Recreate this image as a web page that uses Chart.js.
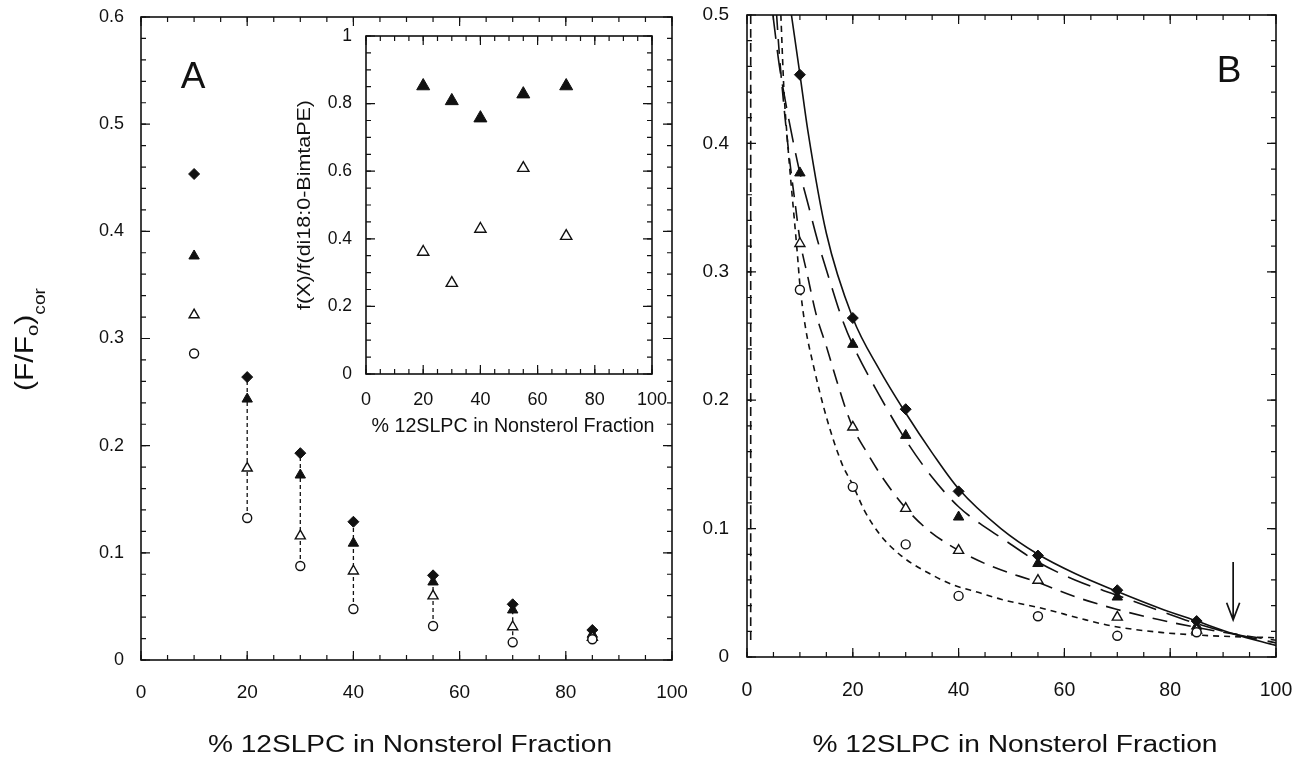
<!DOCTYPE html>
<html>
<head>
<meta charset="utf-8">
<script src="https://cdn.jsdelivr.net/npm/chart.js@4.4.1/dist/chart.umd.min.js"></script>
<style>
  html, body { margin: 0; padding: 0; background: #fff; }
  #wrap { position: relative; width: 1295px; height: 767px; overflow: hidden; background: #fff; }
  #wrap canvas { position: absolute; left: 0; top: 0; }
</style>
</head>
<body>
<div id="wrap">
  <canvas id="chartA" width="1295" height="767"></canvas>
  <canvas id="chartInset" width="1295" height="767"></canvas>
  <canvas id="chartB" width="1295" height="767"></canvas>
</div>
<script>
// measured data, % 12SLPC in nonsterol fraction
const pct = [10, 20, 30, 40, 55, 70, 85];
const diamondVals   = [0.4535, 0.264, 0.193, 0.129, 0.079, 0.052, 0.028];
const filledTriVals = [0.377, 0.2435, 0.1726, 0.109, 0.0728, 0.0467, 0.024];
const openTriVals   = [0.322, 0.179, 0.1157, 0.083, 0.0597, 0.031, 0.021];
const circleVals    = [0.286, 0.1325, 0.0877, 0.0476, 0.0317, 0.0165, 0.0193];

// inset: f(X)/f(di18:0-BimtaPE)
const insetPct = [20, 30, 40, 55, 70];
const insetFilledVals = [0.852, 0.808, 0.757, 0.828, 0.852];
const insetOpenVals   = [0.361, 0.269, 0.429, 0.609, 0.408];

// panel B fitted curves
const solidX = [8.4, 10, 11.5, 15, 20, 25, 30, 35, 40, 48, 55, 62, 70, 78, 85, 92, 100];
const solidY = [0.5, 0.454, 0.41, 0.33, 0.264, 0.224, 0.19, 0.159, 0.131, 0.1, 0.08, 0.065, 0.051, 0.038, 0.028, 0.018, 0.009];
const longDashX = [4.9, 6.1, 7.7, 9.2, 10, 11.4, 13.3, 15.8, 18, 20, 25, 30, 35, 40, 44, 48, 55, 62, 70, 78, 85, 92, 100];
const longDashY = [0.5, 0.461, 0.423, 0.392, 0.377, 0.355, 0.325, 0.291, 0.263, 0.243, 0.204, 0.169, 0.14, 0.117, 0.104, 0.093, 0.074, 0.06, 0.048, 0.036, 0.026, 0.018, 0.011];
const medDashX = [5.6, 6.1, 7.7, 9.2, 10, 11.5, 13, 15, 16.9, 18.6, 20, 22.7, 25.9, 30, 34.2, 40, 46, 55, 62, 70, 78, 85, 92, 100];
const medDashY = [0.5, 0.47, 0.40, 0.35, 0.325, 0.296, 0.268, 0.242, 0.216, 0.194, 0.179, 0.159, 0.138, 0.116, 0.099, 0.083, 0.071, 0.058, 0.047, 0.037, 0.029, 0.023, 0.018, 0.013];
const shortDashX = [6.4, 7, 7.65, 8.3, 8.9, 9.5, 10, 11, 12.5, 15, 17.9, 20, 22.2, 25.2, 29.1, 35.4, 39.1, 44, 48, 56.7, 63, 69.2, 78.6, 88, 100];
const shortDashY = [0.5, 0.44, 0.402, 0.37, 0.343, 0.315, 0.29, 0.258, 0.228, 0.187, 0.151, 0.134, 0.114, 0.095, 0.079, 0.063, 0.056, 0.05, 0.045, 0.037, 0.03, 0.024, 0.019, 0.0165, 0.015];
const edgeLineX = [0.7, 0.7];
const edgeLineY = [0.5, 0.012];
const arrowX = 91.9;
const arrowY = [0.074, 0.029];

const xTitle = '% 12SLPC in Nonsterol Fraction';
const insetYTitle = 'f(X)/f(di18:0-BimtaPE)';

const FONT = '"Liberation Sans", Arial, Helvetica, sans-serif';
const INK = '#111';
Chart.defaults.font.family = FONT;
Chart.defaults.color = INK;

const pts = (xs, ys) => xs.map((x, i) => ({ x: x, y: ys[i] }));

function markers(xs, ys, style, filled, r) {
  return {
    data: pts(xs, ys),
    pointStyle: style,
    pointRadius: r,
    pointHoverRadius: r,
    backgroundColor: filled ? INK : '#fff',
    borderColor: INK,
    borderWidth: filled ? 1 : 1.4,
    showLine: false,
    order: 0,
  };
}

function curve(xs, ys, dash) {
  return {
    data: pts(xs, ys),
    showLine: true,
    pointRadius: 0,
    borderColor: INK,
    borderWidth: 1.6,
    borderDash: dash,
    cubicInterpolationMode: 'monotone',
    fill: false,
    order: 5,
  };
}

function axis(min, max, step, size, pad, fontSize, isY) {
  return {
    type: 'linear',
    min: min,
    max: max,
    grid: { display: false },
    border: { display: false },
    ticks: {
      stepSize: step,
      padding: pad,
      color: INK,
      autoSkip: false,
      maxRotation: 0,
      font: { size: fontSize, family: FONT },
      callback: v => String(+v.toFixed(2)),
    },
    afterFit: s => {
      if (isY) s.width = size; else s.height = size;
      // keep the plot area where it is; labels may hang over the edge
      s.paddingLeft = 0; s.paddingRight = 0; s.paddingTop = 0; s.paddingBottom = 0;
    },
  };
}

function text(ctx, str, x, y, size, opts = {}) {
  ctx.save();
  ctx.font = `${size}px ${FONT}`;
  ctx.fillStyle = INK;
  ctx.textAlign = 'center';
  ctx.textBaseline = 'middle';
  ctx.translate(x, y);
  if (opts.rotate) ctx.rotate(opts.rotate);
  if (opts.width) ctx.scale(opts.width / ctx.measureText(str).width, 1);
  ctx.fillText(str, 0, 0);
  ctx.restore();
}

// border on all four sides plus inward major/minor ticks
function framePlugin(t, extra) {
  return {
    id: 'frame',
    beforeDatasetsDraw(chart) {
      if (!t.fill) return;
      const a = chart.chartArea;
      chart.ctx.save();
      chart.ctx.fillStyle = '#fff';
      chart.ctx.fillRect(a.left, a.top, a.width, a.height);
      chart.ctx.restore();
    },
    afterDraw(chart) {
      const ctx = chart.ctx;
      const a = chart.chartArea;
      const sx = chart.scales.x;
      const sy = chart.scales.y;
      ctx.save();
      ctx.strokeStyle = INK;
      ctx.lineWidth = 1.2;
      const marks = (scale, step, len, horiz) => {
        const n = Math.round((scale.max - scale.min) / step);
        ctx.beginPath();
        for (let i = 0; i <= n; i++) {
          const p = scale.getPixelForValue(scale.min + i * step);
          if (horiz) {
            ctx.moveTo(p, a.bottom); ctx.lineTo(p, a.bottom - len);
            ctx.moveTo(p, a.top); ctx.lineTo(p, a.top + len);
          } else {
            ctx.moveTo(a.left, p); ctx.lineTo(a.left + len, p);
            ctx.moveTo(a.right, p); ctx.lineTo(a.right - len, p);
          }
        }
        ctx.stroke();
      };
      marks(sx, t.xMinor, 5, true);
      marks(sx, t.xMajor, 9, true);
      marks(sy, t.yMinor, 5, false);
      marks(sy, t.yMajor, 9, false);
      ctx.lineWidth = 1.6;
      ctx.strokeRect(a.left, a.top, a.width, a.height);
      ctx.restore();
      if (extra) extra(chart, ctx);
    },
  };
}

const baseOptions = (pad, scales) => ({
  responsive: false,
  animation: false,
  events: [],
  layout: { padding: pad },
  scales: scales,
  plugins: { legend: { display: false }, tooltip: { enabled: false } },
});

// ---- panel A ----
const connectorData = [];
pct.forEach((x, i) => {
  if (i === 0) return;
  connectorData.push({ x: x, y: circleVals[i] }, { x: x, y: diamondVals[i] }, { x: x, y: null });
});

new Chart(document.getElementById('chartA'), {
  type: 'scatter',
  data: {
    datasets: [
      {
        data: connectorData, showLine: true, spanGaps: false, pointRadius: 0,
        borderColor: INK, borderWidth: 1.3, borderDash: [4, 3], order: 10,
      },
      markers(pct, circleVals, 'circle', false, 4.5),
      markers(pct, openTriVals, 'triangle', false, 5.8),
      markers(pct, diamondVals, 'rectRot', true, 5.5),
      markers(pct, filledTriVals, 'triangle', true, 6),
    ],
  },
  options: baseOptions({ left: 0, top: 17, right: 1295 - 672, bottom: 0 }, {
    x: axis(0, 100, 20, 767 - 660, 13, 19, false),
    y: axis(0, 0.6, 0.1, 141, 9, 18, true),
  }),
  plugins: [framePlugin({ xMinor: 5, xMajor: 20, yMinor: 0.02, yMajor: 0.1 }, (chart, ctx) => {
    text(ctx, 'A', 193, 78, 37);
    text(ctx, xTitle, 410, 746, 23.5, { width: 404 });
    ctx.save();
    ctx.translate(23, 391);
    ctx.rotate(-Math.PI / 2);
    ctx.scale(1.2, 1);
    ctx.fillStyle = INK;
    ctx.textBaseline = 'alphabetic';
    ctx.textAlign = 'left';
    let cx = 0;
    const part = (s, size, dy) => {
      ctx.font = `${size}px ${FONT}`;
      ctx.fillText(s, cx, dy);
      cx += ctx.measureText(s).width;
    };
    part('(F/F', 25, 10);
    part('o', 17, 15);
    part(')', 25, 10);
    part('cor', 16, 22);
    ctx.restore();
  })],
});

// ---- inset ----
new Chart(document.getElementById('chartInset'), {
  type: 'scatter',
  data: {
    datasets: [
      markers(insetPct, insetOpenVals, 'triangle', false, 6.5),
      markers(insetPct, insetFilledVals, 'triangle', true, 7.5),
    ],
  },
  options: baseOptions({ left: 0, top: 36, right: 1295 - 652, bottom: 0 }, {
    x: axis(0, 100, 20, 767 - 374, 7, 18, false),
    y: axis(0, 1, 0.2, 366, 6, 17.5, true),
  }),
  plugins: [framePlugin({ fill: true, xMinor: 5, xMajor: 20, yMinor: 0.05, yMajor: 0.2 }, (chart, ctx) => {
    text(ctx, xTitle, 513, 426, 20, { width: 283 });
    text(ctx, insetYTitle, 305, 205, 18, { rotate: -Math.PI / 2, width: 210 });
  })],
});

// ---- panel B ----
new Chart(document.getElementById('chartB'), {
  type: 'scatter',
  data: {
    datasets: [
      curve(edgeLineX, edgeLineY, [9, 5]),
      curve(shortDashX, shortDashY, [6, 5]),
      curve(medDashX, medDashY, [15, 9]),
      curve(longDashX, longDashY, [24, 11]),
      curve(solidX, solidY, []),
      markers(pct, circleVals, 'circle', false, 4.5),
      markers(pct, openTriVals, 'triangle', false, 5.8),
      markers(pct, diamondVals, 'rectRot', true, 5.5),
      markers(pct, filledTriVals, 'triangle', true, 6),
    ],
  },
  options: baseOptions({ left: 0, top: 15, right: 1295 - 1276, bottom: 0 }, {
    x: axis(0, 100, 20, 767 - 657, 14, 19.5, false),
    y: axis(0, 0.5, 0.1, 747, 10, 19, true),
  }),
  plugins: [framePlugin({ xMinor: 5, xMajor: 20, yMinor: 0.02, yMajor: 0.1 }, (chart, ctx) => {
    const sx = chart.scales.x;
    const sy = chart.scales.y;
    const ax = sx.getPixelForValue(arrowX);
    const y0 = sy.getPixelForValue(arrowY[0]);
    const y1 = sy.getPixelForValue(arrowY[1]);
    ctx.save();
    ctx.strokeStyle = INK;
    ctx.lineWidth = 1.7;
    ctx.beginPath();
    ctx.moveTo(ax, y0); ctx.lineTo(ax, y1);
    ctx.moveTo(ax - 6.5, y1 - 17); ctx.lineTo(ax, y1); ctx.lineTo(ax + 6.5, y1 - 17);
    ctx.stroke();
    ctx.restore();
    text(ctx, 'B', 1229, 72, 37);
    text(ctx, xTitle, 1015, 746, 23.5, { width: 405 });
  })],
});
</script>
</body>
</html>
